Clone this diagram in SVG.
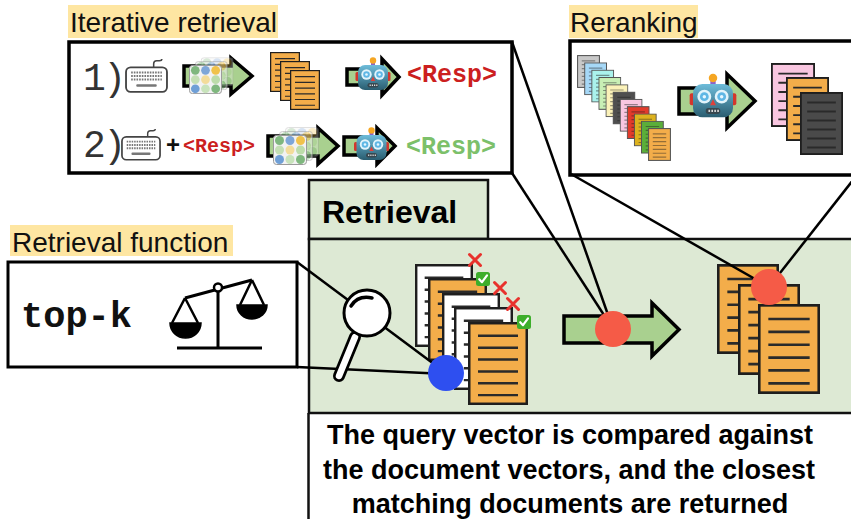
<svg xmlns="http://www.w3.org/2000/svg" xmlns:xlink="http://www.w3.org/1999/xlink" width="851" height="519" viewBox="0 0 851 519">
  <style>
    .sans { font-family: "Liberation Sans", Arial, Helvetica, sans-serif; }
    .mono { font-family: "Liberation Mono", "Courier New", monospace; }
    .label-bg { fill: #fee6a2; }
    .label { font-size: 28px; fill: #111; }
    .frame { fill: #fff; stroke: #000; stroke-width: 3.5; }
    .panel { fill: #dde9d4; stroke: #111; stroke-width: 2.5; }
    .arrow { fill: #a9d08f; stroke: #000; stroke-width: 3.5; stroke-linejoin: miter; }
    .conn { stroke: #000; stroke-width: 2.5; fill: none; }
    .red-dot { fill: #f55b47; }
    .xmark { stroke: #e8322d; stroke-width: 3; stroke-linecap: round; }
    .caption { font-size: 27px; font-weight: bold; fill: #000; text-anchor: middle; }
  </style>
  <defs>
    <linearGradient id="robotGrad" x1="0" y1="0" x2="0" y2="1">
      <stop offset="0" stop-color="#6dbcda"/>
      <stop offset="1" stop-color="#2a5d70"/>
    </linearGradient>
    <!-- document page: fill comes from the <use> -->
    <symbol id="doc" viewBox="0 0 60 84" preserveAspectRatio="none">
      <rect x="1.25" y="1.25" width="57.5" height="81.5" stroke="#1e1e1e" stroke-width="2.5"/>
      <path d="M10,14H50M10,26H50M10,38H50M10,50H50M10,62H50M10,74H50" stroke="#2a2a2a" stroke-width="2.5"/>
    </symbol>
    <symbol id="docSoft" viewBox="0 0 24 34" preserveAspectRatio="none">
      <rect x="0.6" y="0.6" width="22.8" height="32.8" stroke="#555" stroke-width="1.1"/>
      <path d="M5,6H19M5,10H19M5,14H19M5,18H19M5,22H19M5,26H19M5,30H19" stroke="#222" stroke-opacity="0.45" stroke-width="1.2"/>
    </symbol>
    <!-- keyboard -->
    <symbol id="keyboard" viewBox="0 0 42 34">
      <path d="M28,9V5.5Q28,2.5 31,2.5H33.5Q36,2.5 36,0.8" fill="none" stroke="#444" stroke-width="1.5"/>
      <rect x="1" y="9" width="40" height="24" rx="4.5" fill="#fff" stroke="#444" stroke-width="1.8"/>
      <path d="M6,14H36M6,17.5H36M6,21H36" stroke="#777" stroke-width="2" stroke-dasharray="1.6 1"/>
      <rect x="11" y="25.5" width="20" height="2.6" rx="1" fill="#777"/>
    </symbol>
    <!-- embedding matrix -->
    <symbol id="matrix" viewBox="0 0 34 30">
      <rect x="0.5" y="0.5" width="33" height="29" rx="3" fill="#f2f2f2" stroke="#9a9a9a" stroke-width="1"/>
      <circle cx="6.5" cy="5.5" r="4.5" fill="#7fb77e"/>
      <circle cx="17" cy="5.5" r="4.5" fill="#7ea6d8"/>
      <circle cx="27.5" cy="5.5" r="4.5" fill="#f0c24b"/>
      <circle cx="6.5" cy="15" r="4.5" fill="#c4dfb4"/>
      <circle cx="17" cy="15" r="4.5" fill="#f3dc9a"/>
      <circle cx="27.5" cy="15" r="4.5" fill="#bcdcaa"/>
      <circle cx="6.5" cy="24.5" r="4.5" fill="#6f9fd6"/>
      <circle cx="17" cy="24.5" r="4.5" fill="#c8e3bb"/>
      <circle cx="27.5" cy="24.5" r="4.5" fill="#7fb77e"/>
    </symbol>
    <g id="matrixStack">
      <use href="#matrix" x="12" y="-8" width="34" height="30" opacity="0.3"/>
      <use href="#matrix" x="6" y="-4" width="34" height="30" opacity="0.5"/>
      <use href="#matrix" x="0" y="0" width="34" height="30"/>
    </g>
    <!-- robot face -->
    <symbol id="robot" viewBox="0 0 36 34">
      <rect x="16" y="4.5" width="4" height="4.5" fill="#8a63c9"/>
      <circle cx="18" cy="3.5" r="3.2" fill="#f5a623"/>
      <rect x="0.5" y="15" width="4" height="9" rx="1.5" fill="#d3362d"/>
      <rect x="31.5" y="15" width="4" height="9" rx="1.5" fill="#d3362d"/>
      <rect x="3" y="8" width="30" height="25" rx="7" fill="url(#robotGrad)"/>
      <circle cx="11.5" cy="17.5" r="5.2" fill="#e2f4fb"/>
      <circle cx="11.5" cy="17.5" r="3.3" fill="#5fb7e5"/>
      <circle cx="11.5" cy="17.5" r="1.3" fill="#e8f7ff"/>
      <circle cx="24.5" cy="17.5" r="5.2" fill="#e2f4fb"/>
      <circle cx="24.5" cy="17.5" r="3.3" fill="#5fb7e5"/>
      <circle cx="24.5" cy="17.5" r="1.3" fill="#e8f7ff"/>
      <path d="M18,19.5L15.8,24H20.2Z" fill="#e0413a"/>
      <rect x="12.5" y="26" width="11" height="4.5" rx="2.2" fill="#37474f"/>
      <path d="M14.6,28.2h1.2M16.8,28.2h1.2M19,28.2h1.2M21.2,28.2h1.2" stroke="#ddd" stroke-width="1.6"/>
    </symbol>
    <!-- green check badge -->
    <g id="check">
      <rect x="-7" y="-7" width="14" height="14" rx="2.5" fill="#3dae2b"/>
      <path d="M-3.8,0.2L-1,3.2L4,-3.6" fill="none" stroke="#fff" stroke-width="2.2" stroke-linecap="round" stroke-linejoin="round"/>
    </g>
    <g id="cross">
      <path class="xmark" d="M-5.5,-5.5L5.5,5.5M5.5,-5.5L-5.5,5.5"/>
    </g>
  </defs>

  <rect width="851" height="519" fill="#fff"/>

  <!-- Iterative retrieval -->
  <g id="iterative-retrieval">
    <rect class="label-bg" x="68" y="5" width="210" height="33"/>
    <text class="sans label" x="70" y="32">Iterative retrieval</text>
    <rect class="frame" x="69" y="42" width="443" height="131"/>
    <!-- step 1 -->
    <text class="mono" x="83" y="90" font-size="38" letter-spacing="-2.5" fill="#333">1)</text>
    <use href="#keyboard" x="125" y="58" width="43" height="35"/>
    <path class="arrow" d="M184,66H231V58L252,76L231,94V86H184Z"/>
    <use href="#matrixStack" transform="translate(189,65) scale(0.97)"/>
    <use href="#doc" x="270" y="52" width="30" height="40" fill="#f3ad4a"/>
    <use href="#doc" x="280" y="61" width="30" height="40" fill="#f3ad4a"/>
    <use href="#doc" x="290" y="70" width="30" height="40" fill="#f3ad4a"/>
    <path class="arrow" d="M347,69H382V59L399,77L382,95V85H347Z"/>
    <use href="#robot" x="355" y="57" width="36" height="34"/>
    <text class="mono" x="407" y="82" font-size="25" font-weight="bold" fill="#cc1f1f">&lt;Resp&gt;</text>
    <!-- step 2 -->
    <text class="mono" x="83" y="157" font-size="38" letter-spacing="-2.5" fill="#333">2)</text>
    <use href="#keyboard" x="121" y="128" width="40" height="33"/>
    <text class="sans" x="166" y="153" font-size="24" font-weight="bold" fill="#111">+</text>
    <text class="mono" x="183" y="152" font-size="20" font-weight="bold" fill="#cc1f1f">&lt;Resp&gt;</text>
    <path class="arrow" d="M268,136H318V128L338,146L318,164V156H268Z"/>
    <use href="#matrixStack" transform="translate(273,135)"/>
    <path class="arrow" d="M344,137H377V128L395,146L377,164V155H344Z"/>
    <use href="#robot" x="353" y="127" width="37" height="34"/>
    <text class="mono" x="406" y="154" font-size="25" font-weight="bold" fill="#7cc06a">&lt;Resp&gt;</text>
  </g>

  <!-- Reranking -->
  <g id="reranking">
    <rect class="label-bg" x="569" y="5" width="129" height="33"/>
    <text class="sans label" x="570" y="32">Reranking</text>
    <rect class="frame" x="570" y="41" width="300" height="134"/>
    <use href="#docSoft" x="577" y="55" width="23" height="33" fill="#c8c8c8"/>
    <use href="#docSoft" x="584.1" y="62.3" width="23" height="33" fill="#a6d8f7"/>
    <use href="#docSoft" x="591.2" y="69.6" width="23" height="33" fill="#aaf2ec"/>
    <use href="#docSoft" x="598.3" y="76.9" width="23" height="33" fill="#c8efb5"/>
    <use href="#docSoft" x="605.4" y="84.2" width="23" height="33" fill="#fbf2b9"/>
    <use href="#docSoft" x="612.5" y="91.5" width="23" height="33" fill="#4f4f4f"/>
    <use href="#docSoft" x="619.6" y="98.8" width="23" height="33" fill="#f9c6e0"/>
    <use href="#docSoft" x="626.7" y="106.1" width="23" height="33" fill="#e23b2b"/>
    <use href="#docSoft" x="633.8" y="113.4" width="23" height="33" fill="#ddb21e"/>
    <use href="#docSoft" x="640.9" y="120.7" width="23" height="33" fill="#5bae3a"/>
    <use href="#docSoft" x="648" y="128" width="23" height="33" fill="#f3ad4a"/>
    <path class="arrow" d="M679,88H727V74L755,101L727,128V114H679Z"/>
    <use href="#robot" x="689" y="73" width="48" height="46"/>
    <use href="#doc" x="771" y="63" width="44" height="64" fill="#f9c6e0"/>
    <use href="#doc" x="786" y="77" width="43" height="64" fill="#f3ad4a"/>
    <use href="#doc" x="800" y="92" width="43" height="63" fill="#4a4a4a"/>
  </g>

  <!-- Retrieval function -->
  <g id="retrieval-function">
    <rect class="label-bg" x="10" y="225" width="223" height="31"/>
    <text class="sans label" x="12" y="252">Retrieval function</text>
    <rect x="8" y="262" width="289" height="105" fill="#fff" stroke="#000" stroke-width="3"/>
    <text class="mono" x="21" y="327" font-size="37" font-weight="bold" fill="#111">top-k</text>
    <g id="scale" stroke="#000" fill="none">
      <path d="M177,348H262M218,290V348M185,298L252,280" stroke-width="3"/>
      <path d="M185,298L172,323M185,298L198,323M252,280L240,305M252,280L264,305" stroke-width="2.5"/>
      <path d="M170,323H201A15.5,15 0 0 1 170,323Z" fill="#000" stroke-width="1.5"/>
      <path d="M237,305H267A15,14 0 0 1 237,305Z" fill="#000" stroke-width="1.5"/>
      <circle cx="218" cy="287.5" r="4" fill="#fff" stroke-width="2.5"/>
    </g>
  </g>

  <!-- Retrieval panel -->
  <g id="retrieval">
    <rect class="panel" x="309" y="180" width="179" height="59"/>
    <text class="sans" x="322" y="223" font-size="32" font-weight="bold" fill="#000">Retrieval</text>
    <rect class="panel" x="309" y="239" width="560" height="174"/>
    <path d="M308.5,413V520" stroke="#111" stroke-width="2.5"/>
    <text class="sans caption" x="570" y="444">The query vector is compared against</text>
    <text class="sans caption" x="569" y="479">the document vectors, and the closest</text>
    <text class="sans caption" x="570" y="513">matching documents are returned</text>
  </g>

  <!-- candidate documents -->
  <g id="candidates">
    <use href="#doc" x="415" y="264" width="58" height="83" fill="#fff"/>
    <use href="#doc" x="428" y="278" width="59" height="83" fill="#f3ad4a"/>
    <use href="#doc" x="442" y="293" width="58" height="83" fill="#fff"/>
    <use href="#doc" x="454" y="307" width="59" height="83" fill="#fff"/>
    <use href="#doc" x="468" y="322" width="60" height="83" fill="#f3ad4a"/>
    <use href="#cross" x="475" y="260"/>
    <use href="#cross" x="500" y="288"/>
    <use href="#cross" x="513" y="304"/>
    <use href="#check" x="483" y="279"/>
    <use href="#check" x="524" y="322"/>
  </g>

  <!-- ranked output -->
  <g id="search-arrow">
    <path class="arrow" d="M564,316H652V303L679,329.5L652,356V343H564Z"/>
  </g>
  <g id="results">
    <use href="#doc" x="717" y="264" width="62" height="90" fill="#f3ad4a"/>
    <use href="#doc" x="738" y="284" width="62" height="91" fill="#f3ad4a"/>
    <use href="#doc" x="758" y="304" width="62" height="90" fill="#f3ad4a"/>
  </g>

  <!-- callout connectors -->
  <g id="connectors" class="conn">
    <path d="M512,42L613,329"/>
    <path d="M512,173L613,329"/>
    <path d="M571,174L769,287"/>
    <path d="M857,175L769,287"/>
    <path d="M297,262L446,373"/>
    <path d="M297,367L446,374"/>
  </g>

  <!-- query magnifier -->
  <g id="magnifier">
    <path d="M355,337L339,376" stroke="#000" stroke-width="12" stroke-linecap="round"/>
    <path d="M355,337L339,376" stroke="#fff" stroke-width="6.5" stroke-linecap="round"/>
    <circle cx="367" cy="313" r="23" fill="#fff" stroke="#000" stroke-width="3"/>
    <path d="M351,306Q358,295 372,298" fill="none" stroke="#000" stroke-width="3.5" stroke-linecap="round"/>
  </g>

  <!-- connector anchor points -->
  <g id="anchors">
    <circle cx="446" cy="373" r="18" fill="#2e4ff0"/>
    <circle class="red-dot" cx="613" cy="329" r="18"/>
    <circle class="red-dot" cx="769" cy="287" r="18"/>
  </g>
</svg>
